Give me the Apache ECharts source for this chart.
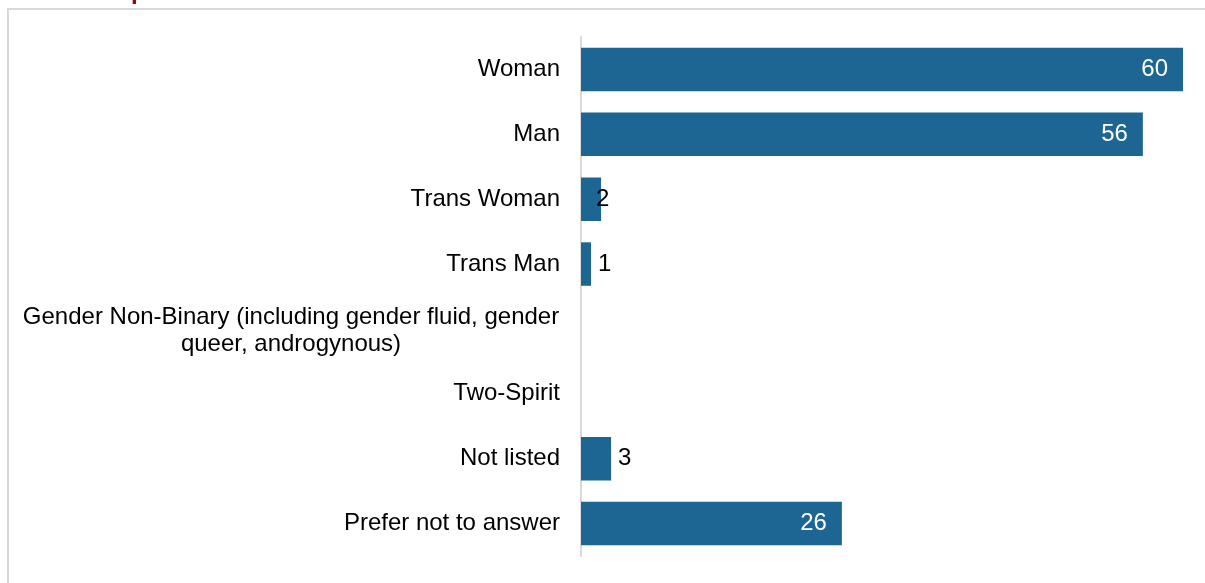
<!DOCTYPE html>
<html>
<head>
<meta charset="utf-8">
<script src="https://cdn.jsdelivr.net/npm/echarts@6/dist/echarts.min.js"></script>
<style>
  html, body { margin: 0; padding: 0; background: #ffffff; }
  #chart { width: 1205px; height: 583px; }
</style>
</head>
<body>
<div id="chart"></div>
<script>
// Gender identity of respondents (counts)
const categories = [
  'Woman',
  'Man',
  'Trans Woman',
  'Trans Man',
  'Gender Non-Binary (including gender fluid, gender queer, androgynous)',
  'Two-Spirit',
  'Not listed',
  'Prefer not to answer'
];
const counts = [60, 56, 2, 1, 0, 0, 3, 26];

const BAR_COLOR = '#1d6593';
const FONT = '"Liberation Sans", Arial, sans-serif';
const FONT_SIZE = 24;

// Long bars carry their value inside in white; short ones outside in black.
function labelFor(v) {
  if (!v) return { show: false };
  if (v >= 10) {
    return { show: true, position: 'insideRight', distance: 15, color: '#ffffff' };
  }
  if (v === 2) {
    return { show: true, position: 'right', distance: -5, color: '#000000' };
  }
  return { show: true, position: 'right', distance: 7, color: '#000000' };
}

const seriesData = counts.map(v => ({ value: v, label: labelFor(v) }));

const chart = echarts.init(document.getElementById('chart'), null, { renderer: 'canvas' });

chart.setOption({
  animation: false,
  backgroundColor: '#ffffff',
  textStyle: { fontFamily: FONT },
  graphic: [
    {
      type: 'rect',
      shape: { x: 8, y: 9, width: 1260, height: 620 },
      style: { fill: 'none', stroke: '#d9d9d9', lineWidth: 2 },
      silent: true
    },
    {
      type: 'text',
      left: 131,
      top: -20,
      style: { text: 'p', fill: '#8b0a0a', font: 'bold 24px "Liberation Sans", Arial, sans-serif' },
      silent: true
    }
  ],
  grid: { left: 581, right: 22, top: 37, bottom: 27, containLabel: false },
  xAxis: {
    type: 'value',
    min: 0,
    max: 60,
    show: false
  },
  yAxis: {
    type: 'category',
    data: categories,
    inverse: true,
    axisLine: { show: true, lineStyle: { color: '#d9d9d9', width: 2 } },
    axisTick: { show: false },
    splitLine: { show: false },
    axisLabel: {
      margin: 21,
      color: '#000000',
      fontFamily: FONT,
      fontSize: FONT_SIZE,
      align: 'right',
      formatter: function (val) {
        if (val.indexOf('Gender Non-Binary') === 0) {
          return '{c|Gender Non-Binary (including gender fluid, gender}\n{c|queer, androgynous)}';
        }
        return val;
      },
      rich: {
        c: {
          width: 538,
          align: 'center',
          lineHeight: 27,
          padding: [3, 0, 0, 0],
          fontSize: FONT_SIZE,
          fontFamily: FONT,
          color: '#000000'
        }
      }
    }
  },
  series: [
    {
      type: 'bar',
      data: seriesData,
      barCategoryGap: '33%',
      itemStyle: { color: BAR_COLOR },
      label: {
        fontFamily: FONT,
        fontSize: FONT_SIZE
      }
    }
  ]
});
</script>
</body>
</html>
